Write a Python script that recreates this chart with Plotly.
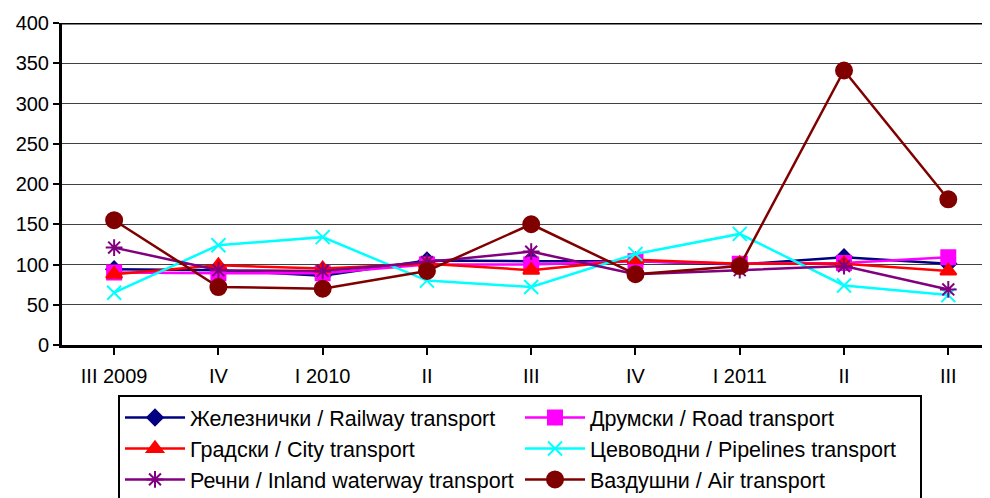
import plotly.graph_objects as go

categories = ["III 2009", "IV", "I 2010", "II", "III", "IV", "I 2011", "II", "III"]

railway = [94, 93, 86, 105, 104, 104, 100, 109, 101]
road = [90, 89, 89, 100, 100, 104, 101, 102, 109]
city = [88, 99, 95, 101, 93, 106, 101, 101, 92]
pipelines = [65, 124, 134, 80, 72, 113, 138, 74, 62]
inland = [121, 93, 92, 103, 116, 88, 93, 98, 69]
air = [155, 72, 70, 92, 150, 88, 98, 341, 181]

names = [
    "Железнички / Railway transport",
    "Друмски / Road transport",
    "Градски / City transport",
    "Цевоводни / Pipelines transport",
    "Речни / Inland waterway transport",
    "\u0412\u0430\u0437\u0434\u0443\u0448\u043d\u0438 / Air transport",
]
values = [railway, road, city, pipelines, inland, air]
colors = ["#000080", "#FF00FF", "#FF0000", "#00FFFF", "#800080", "#800000"]
symbols = ["diamond", "square", "triangle-up", "x-thin-open", "asterisk-open", "circle"]
sizes = [12, 14, 14, 14, 14, 16]

fig = go.Figure()
x_idx = list(range(len(categories)))
for name, vals, color, sym, size in zip(names, values, colors, symbols, sizes):
    fig.add_trace(go.Scatter(
        x=x_idx, y=vals, name=name, mode="lines+markers",
        line=dict(color=color, width=2.5),
        marker=dict(symbol=sym, size=size, color=color,
                    line=dict(color=color, width=2)),
    ))

# page body has an 8px default margin, so the figure is drawn 8px right/down
fig.update_layout(
    width=982, height=490,
    margin=dict(l=54, r=0, t=15, b=153, autoexpand=False),
    paper_bgcolor="white", plot_bgcolor="white",
    font=dict(family="Liberation Sans, Arial, sans-serif", size=20, color="black"),
    showlegend=True,
    legend=dict(
        orientation="h", x=(118 - 62) / 928, y=-50 / 322, xanchor="left", yanchor="top",
        entrywidth=325, entrywidthmode="pixels", itemwidth=60,
        bordercolor="black", borderwidth=2, bgcolor="white",
        font=dict(size=21.5), traceorder="normal",
    ),
    xaxis=dict(
        range=[-0.5, 8.4], tickmode="array", tickvals=x_idx, ticktext=categories,
        showgrid=False, showline=True, linecolor="black", linewidth=3,
        ticks="outside", tickson="boundaries", ticklen=7, tickwidth=2, tickcolor="black",
        ticklabelstandoff=4, tickfont=dict(size=20),
        zeroline=False, fixedrange=True,
    ),
    yaxis=dict(
        range=[0, 400], dtick=50, showgrid=True, gridcolor="#404040", gridwidth=1,
        showline=True, linecolor="black", linewidth=3,
        ticks="outside", ticklen=6, tickwidth=2, tickcolor="black",
        zeroline=False, fixedrange=True,
    ),
)
fig.add_shape(type="line", xref="paper", yref="y", x0=0, x1=1, y0=400, y1=400,
              line=dict(color="black", width=3))

fig.write_html("out.html")
